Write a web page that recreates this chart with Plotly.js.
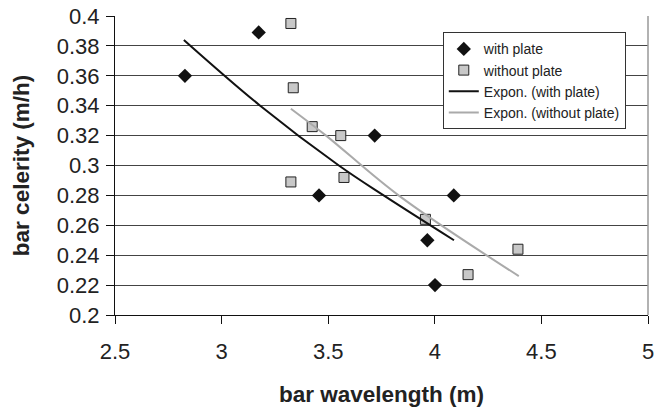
<!DOCTYPE html>
<html>
<head>
<meta charset="utf-8">
<script src="https://cdn.plot.ly/plotly-3.0.1.min.js"></script>
<style>html,body{margin:0;padding:0;background:#fff;}#chart{width:668px;height:409px;}</style>
</head>
<body>
<div id="chart"></div>
<script>
// with plate
const withPlateX = [2.828, 3.174, 3.457, 3.718, 3.965, 4.001, 4.089];
const withPlateY = [0.360, 0.389, 0.280, 0.320, 0.250, 0.220, 0.280];
// without plate
const withoutPlateX = [3.325, 3.336, 3.425, 3.325, 3.559, 3.574, 3.956, 4.156, 4.390];
const withoutPlateY = [0.395, 0.352, 0.326, 0.289, 0.320, 0.292, 0.264, 0.227, 0.244];
// exponential trend lines
const expWithX = [2.823, 3.181, 3.550, 3.760, 4.090];
const expWithY = [0.384, 0.340, 0.300, 0.280, 0.250];
const expWithoutX = [3.325, 3.490, 3.830, 4.394];
const expWithoutY = [0.338, 0.320, 0.280, 0.226];

const xTicks = [2.5, 3, 3.5, 4, 4.5, 5];
const yTicks = [0.2, 0.22, 0.24, 0.26, 0.28, 0.3, 0.32, 0.34, 0.36, 0.38, 0.4];

const FONT = 'Arial, "Liberation Sans", sans-serif';

const traces = [
  {x: withPlateX, y: withPlateY, name: 'with plate', mode: 'markers', type: 'scatter',
   legendgroup: 'a',
   marker: {symbol: 'diamond', size: 11, color: '#111', line: {width: 0}}},
  {x: withoutPlateX, y: withoutPlateY, name: 'without plate', mode: 'markers', type: 'scatter',
   legendgroup: 'b',
   marker: {symbol: 'square', size: 10, color: '#c8c8c8', line: {width: 1, color: '#222'}}},
  {x: expWithX, y: expWithY, name: 'Expon. (with plate)', mode: 'lines', type: 'scatter',
   legendgroup: 'c', line: {color: '#111', width: 2, shape: 'spline'}},
  {x: expWithoutX, y: expWithoutY, name: 'Expon. (without plate)', mode: 'lines', type: 'scatter',
   legendgroup: 'd', line: {color: '#aaaaaa', width: 2, shape: 'spline'}}
];

const layout = {
  width: 668, height: 409,
  margin: {l: 115, r: 20, t: 16, b: 94},
  paper_bgcolor: '#fff', plot_bgcolor: '#fff',
  font: {family: FONT, color: '#222'},
  showlegend: true,
  legend: {x: 0.615, y: 0.9455, xanchor: 'left', yanchor: 'top',
    bgcolor: '#fff', bordercolor: '#333', borderwidth: 1,
    font: {family: FONT, size: 14, color: '#222'}, tracegroupgap: 0},
  xaxis: {range: [2.5, 5], tickvals: xTicks, ticktext: xTicks.map(String),
    showgrid: false, zeroline: false, showline: true, linecolor: '#111', linewidth: 1,
    ticks: 'outside', ticklen: 8, tickcolor: '#111', ticklabelstandoff: 9,
    tickfont: {family: FONT, size: 22, color: '#222'},
    title: {text: '<b>bar wavelength (m)</b>', font: {family: FONT, size: 22.5, color: '#222'}, standoff: 22}},
  yaxis: {range: [0.2, 0.4], tickvals: yTicks, ticktext: yTicks.map(v => String(v)),
    showgrid: true, gridcolor: '#444', gridwidth: 1, zeroline: false,
    showline: true, linecolor: '#111', linewidth: 1,
    ticks: 'outside', ticklen: 8, tickcolor: '#111', ticklabelstandoff: 2,
    tickfont: {family: FONT, size: 22, color: '#222'},
    title: {text: '<b>bar celerity (m/h)</b>', font: {family: FONT, size: 22.5, color: '#222'}, standoff: 20}},
  shapes: [
    {type: 'line', xref: 'paper', yref: 'paper', x0: 1, x1: 1, y0: 0, y1: 1, line: {color: '#999', width: 1.5}}
  ]
};

Plotly.newPlot('chart', traces, layout, {displayModeBar: false, staticPlot: true});
</script>
</body>
</html>
